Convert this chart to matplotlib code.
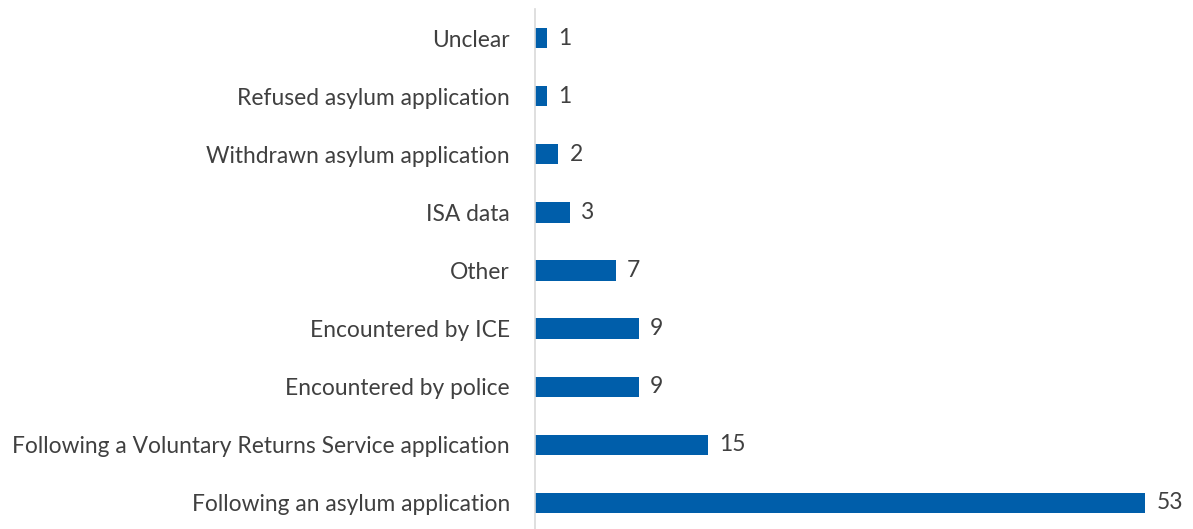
import matplotlib.pyplot as plt

plt.rcParams['font.family'] = ['Lato', 'DejaVu Sans']

categories = [
    "Following an asylum application",
    "Following a Voluntary Returns Service application",
    "Encountered by police",
    "Encountered by ICE",
    "Other",
    "ISA data",
    "Withdrawn asylum application",
    "Refused asylum application",
    "Unclear",
]
counts = [53, 15, 9, 9, 7, 3, 2, 1, 1]

text_color = '#404040'
bar_color = '#005EAA'

fig = plt.figure(figsize=(11.93, 5.29), dpi=100)
ax = fig.add_axes([535 / 1193, -3 / 529, 650 / 1193, 523 / 529])

pos = range(len(categories))
ax.barh(pos, counts, height=0.35, color=bar_color)
for y, v in zip(pos, counts):
    ax.text(v + 1.0, y, str(v), va='center', ha='left', fontsize=16.4, color=text_color)

ax.set_xlim(0, 56.5)
ax.set_ylim(-0.5, len(categories) - 0.5)
ax.set_yticks(list(pos))
ax.set_yticklabels(categories, fontsize=16.4, color=text_color)
ax.tick_params(axis='y', length=0, pad=18)
ax.set_xticks([])

for side in ['top', 'right', 'bottom']:
    ax.spines[side].set_visible(False)
ax.spines['left'].set_color('#d9d9d9')
ax.spines['left'].set_linewidth(1.2)

fig.savefig('out.png', dpi=100)
plt.close(fig)
